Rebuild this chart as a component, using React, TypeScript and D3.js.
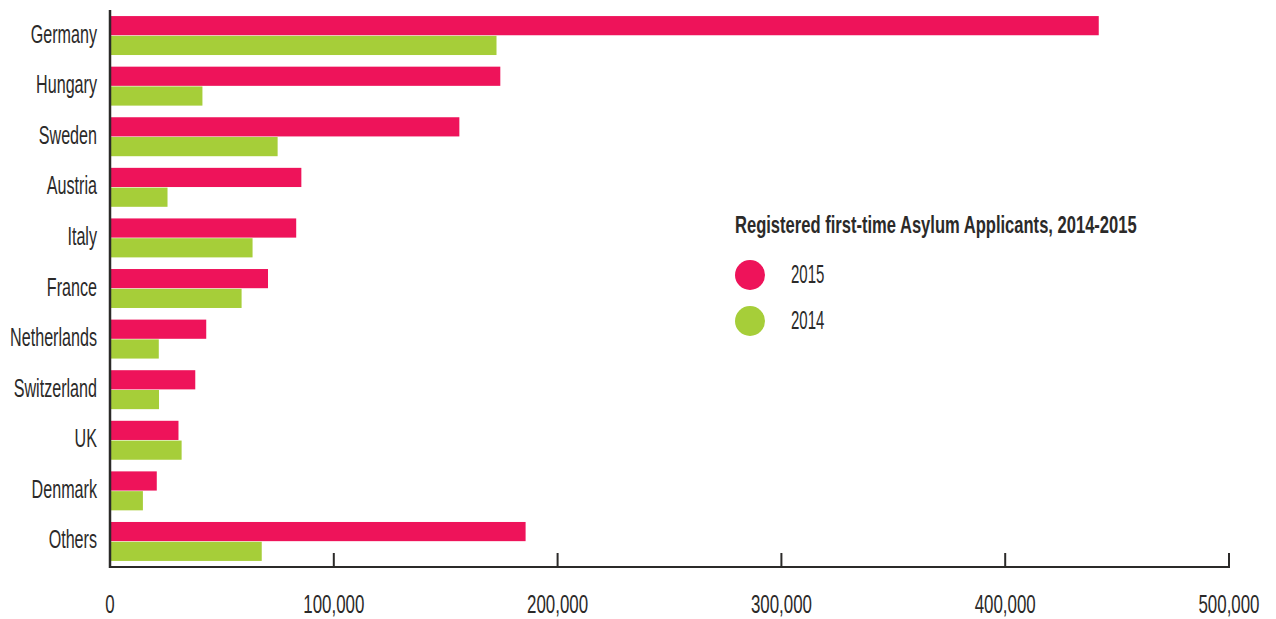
import React from "react";
import { scaleBand, scaleLinear } from "d3";

const countries = ["Germany", "Hungary", "Sweden", "Austria", "Italy", "France", "Netherlands", "Switzerland", "UK", "Denmark", "Others"];
const values2015 = [441800, 174400, 156100, 85500, 83200, 70600, 43000, 38100, 30600, 20900, 185700];
const values2014 = [172700, 41300, 74900, 25700, 63700, 58800, 21800, 21900, 32000, 14700, 67800];
const seriesKeys = ["2015", "2014"];
const xTicks = [0, 100000, 200000, 300000, 400000, 500000];
const legendTitle = "Registered first-time Asylum Applicants, 2014-2015";

const colors: any = { "2015": "#EE135A", "2014": "#A6CE39" };
const ink = "#2B2A29";
const font = "'Liberation Sans', Arial, sans-serif";

// the original face is a tall condensed one, so squeeze Liberation Sans horizontally
const Label = ({ x, y, size, anchor, weight, squeeze, children }: any) => (
    <text
        transform={`translate(${x},${y}) scale(${squeeze || 0.62},1)`}
        fontSize={size}
        textAnchor={anchor || "start"}
        fontWeight={weight || "normal"}
        fill={ink}
        fontFamily={font}
    >
        {children}
    </text>
);

export default function App() {
    const width = 1276;
    const height = 619;
    const left = 110;
    const right = 1229;
    const top = 10;
    const bottom = 567;

    const xScale = scaleLinear().domain([0, 500000]).range([left, right]);
    const yScale: any = scaleBand()
        .domain(countries)
        .range([top, bottom])
        .paddingInner(0.23)
        .paddingOuter(0.12);
    const y1Scale: any = scaleBand()
        .domain(seriesKeys)
        .range([0, yScale.bandwidth()])
        .paddingInner(0.03);

    const seriesValues: any = { "2015": values2015, "2014": values2014 };

    return (
        <svg
            width={width}
            height={height}
            style={{ position: "absolute", left: 0, top: 0, background: "#fff" }}
        >
            {countries.map((c, i) => (
                <g key={c}>
                    {seriesKeys.map((k) => (
                        <rect
                            key={k}
                            x={xScale(0)}
                            y={yScale(c) + y1Scale(k)}
                            width={xScale(seriesValues[k][i]) - xScale(0)}
                            height={y1Scale.bandwidth()}
                            fill={colors[k]}
                        />
                    ))}
                    <Label x={97} y={yScale(c) + yScale.bandwidth() / 2 + 7} size={26} anchor="end">
                        {c}
                    </Label>
                </g>
            ))}

            {/* axes */}
            <line x1={left} x2={left} y1={top} y2={bottom + 1} stroke={ink} strokeWidth={2.5} />
            <line x1={left} x2={right + 1} y1={bottom} y2={bottom} stroke={ink} strokeWidth={2} />
            {xTicks.map((t) => (
                <g key={t}>
                    {t > 0 && (
                        <line x1={xScale(t)} x2={xScale(t)} y1={bottom - 14} y2={bottom} stroke={ink} strokeWidth={2} />
                    )}
                    <Label x={xScale(t)} y={613} size={26} anchor="middle" squeeze={0.65}>
                        {t.toLocaleString("en-US")}
                    </Label>
                </g>
            ))}

            {/* legend */}
            <Label x={735} y={233} size={23} weight="bold" squeeze={0.72}>
                {legendTitle}
            </Label>
            {seriesKeys.map((k, i) => (
                <g key={k}>
                    <circle cx={750} cy={275 + i * 46} r={15} fill={colors[k]} />
                    <Label x={791} y={283 + i * 46} size={25} squeeze={0.6}>
                        {k}
                    </Label>
                </g>
            ))}
        </svg>
    );
}
